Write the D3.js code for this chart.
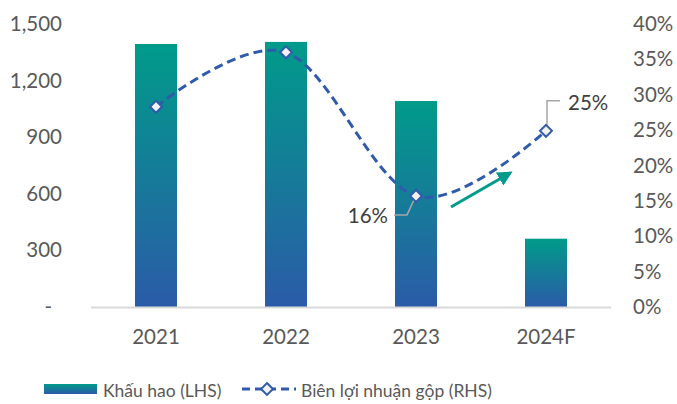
<!DOCTYPE html>
<html>
<head>
<meta charset="utf-8">
<script src="https://cdn.jsdelivr.net/npm/d3@7"></script>
<style>
  body { margin: 0; background: #fff; }
  text { font-family: Lato, "Open Sans", sans-serif; }
</style>
</head>
<body>
<div id="chart"></div>
<script>
const categories = ["2021", "2022", "2023", "2024F"];
const depreciation = [1394, 1405, 1092, 362];
const grossMargin = [0.283, 0.360, 0.157, 0.249];
const leftTicks = [0, 300, 600, 900, 1200, 1500];
const rightTicks = [0, 0.05, 0.1, 0.15, 0.2, 0.25, 0.3, 0.35, 0.4];
const labelled = { "2023": "16%", "2024F": "25%" };

const width = 677;
const height = 404;
const plot = { left: 91, right: 611, top: 24, bottom: 307 };
const teal = "#009B8A";
const blue = "#2B5BA8";
const lineBlue = "#2F5BAA";
const grey = "#595959";

const svg = d3.select("#chart").append("svg")
  .attr("width", width)
  .attr("height", height);

const defs = svg.append("defs");
const grad = defs.append("linearGradient")
  .attr("id", "barGrad")
  .attr("x1", 0).attr("y1", 0).attr("x2", 0).attr("y2", 1);
grad.append("stop").attr("offset", "0%").attr("stop-color", teal);
grad.append("stop").attr("offset", "100%").attr("stop-color", blue);

const x = d3.scaleBand().domain(categories).range([plot.left, plot.right]);
const yL = d3.scaleLinear().domain([0, 1500]).range([plot.bottom, plot.top]);
const yR = d3.scaleLinear().domain([0, 0.4]).range([plot.bottom, plot.top]);
const barW = x.bandwidth() * 0.323;
const cx = d => x(d) + x.bandwidth() / 2;

// left axis
const leftAxis = d3.axisLeft(yL).tickValues(leftTicks).tickSize(0).tickPadding(0)
  .tickFormat(d => d === 0 ? "-" : d3.format(",")(d));
const gl = svg.append("g").attr("transform", "translate(62,0)").call(leftAxis);
gl.select(".domain").remove();
gl.selectAll("text").attr("fill", grey).style("font-size", "20.5px")
  .attr("dx", d => d === 0 ? -10 : 0);

// right axis
const rightAxis = d3.axisRight(yR).tickValues(rightTicks).tickSize(0).tickPadding(0)
  .tickFormat(d3.format(".0%"));
const gr = svg.append("g").attr("transform", "translate(633,0)").call(rightAxis);
gr.select(".domain").remove();
gr.selectAll("text").attr("fill", grey).style("font-size", "20.5px");

// x axis
const xAxis = d3.axisBottom(x).tickSize(0).tickPadding(0);
const gx = svg.append("g").attr("transform", "translate(0," + (plot.bottom + 22) + ")").call(xAxis);
gx.select(".domain").remove();
gx.selectAll("text").attr("fill", grey).style("font-size", "20.5px");

// bars
svg.append("g").selectAll("rect")
  .data(categories)
  .enter().append("rect")
  .attr("x", d => cx(d) - barW / 2)
  .attr("width", barW)
  .attr("y", (d, i) => yL(depreciation[i]))
  .attr("height", (d, i) => plot.bottom - yL(depreciation[i]))
  .attr("fill", "url(#barGrad)");

// baseline
svg.append("line")
  .attr("x1", plot.left).attr("x2", plot.right)
  .attr("y1", plot.bottom + 0.5).attr("y2", plot.bottom + 0.5)
  .attr("stroke", "#D9D9D9").attr("stroke-width", 2);

// margin line
const points = categories.map((c, i) => [cx(c), yR(grossMargin[i])]);
const line = d3.line().curve(d3.curveCardinal.tension(0));
svg.append("path")
  .attr("d", line(points))
  .attr("fill", "none")
  .attr("stroke", lineBlue)
  .attr("stroke-width", 3)
  .attr("stroke-dasharray", "9,5");

// leader lines for labels
const p3 = points[2], p4 = points[3];
svg.append("polyline")
  .attr("points", [[p3[0] - 2, p3[1] + 4], [p3[0] - 9, p3[1] + 19], [p3[0] - 22, p3[1] + 19]].join(" "))
  .attr("fill", "none").attr("stroke", "#A6A6A6").attr("stroke-width", 1.5);
svg.append("polyline")
  .attr("points", [[p4[0] + 1, p4[1] - 4], [p4[0] + 1, p4[1] - 30], [p4[0] + 14, p4[1] - 30]].join(" "))
  .attr("fill", "none").attr("stroke", "#A6A6A6").attr("stroke-width", 1.5);

// markers
const diamond = d3.symbol().type(d3.symbolDiamond2).size(90);
svg.append("g").selectAll("path")
  .data(points)
  .enter().append("path")
  .attr("transform", d => "translate(" + d[0] + "," + d[1] + ")")
  .attr("d", diamond)
  .attr("fill", "#F2F2F2")
  .attr("stroke", lineBlue)
  .attr("stroke-width", 2);

// data labels
svg.append("text")
  .attr("x", p3[0] - 28).attr("y", p3[1] + 27)
  .attr("text-anchor", "end")
  .attr("fill", "#404040").style("font-size", "20.5px")
  .text(labelled["2023"]);
svg.append("text")
  .attr("x", p4[0] + 22).attr("y", p4[1] - 21)
  .attr("fill", "#404040").style("font-size", "20.5px")
  .text(labelled["2024F"]);

// trend arrow
defs.append("marker")
  .attr("id", "arrowHead")
  .attr("viewBox", "0 0 10 10")
  .attr("refX", 8).attr("refY", 5)
  .attr("markerWidth", 5).attr("markerHeight", 5)
  .attr("orient", "auto")
  .append("path").attr("d", "M0,0L10,5L0,10Z").attr("fill", teal);
svg.append("line")
  .attr("x1", 451).attr("y1", 207).attr("x2", 510).attr("y2", 173)
  .attr("stroke", teal).attr("stroke-width", 3)
  .attr("marker-end", "url(#arrowHead)");

// legend
const lg = svg.append("g");
lg.append("rect").attr("x", 44).attr("y", 384).attr("width", 53).attr("height", 10)
  .attr("fill", "url(#barGrad)");
lg.append("text").attr("x", 103).attr("y", 397)
  .attr("fill", grey).style("font-size", "17.5px").text("Khấu hao (LHS)");
lg.append("line").attr("x1", 242).attr("x2", 296).attr("y1", 389).attr("y2", 389)
  .attr("stroke", lineBlue).attr("stroke-width", 3).attr("stroke-dasharray", "8,5");
lg.append("path").attr("transform", "translate(267,389)").attr("d", diamond)
  .attr("fill", "#F2F2F2").attr("stroke", lineBlue).attr("stroke-width", 2);
lg.append("text").attr("x", 301).attr("y", 397)
  .attr("fill", grey).style("font-size", "17.5px").text("Biên lợi nhuận gộp (RHS)");
</script>
</body>
</html>
